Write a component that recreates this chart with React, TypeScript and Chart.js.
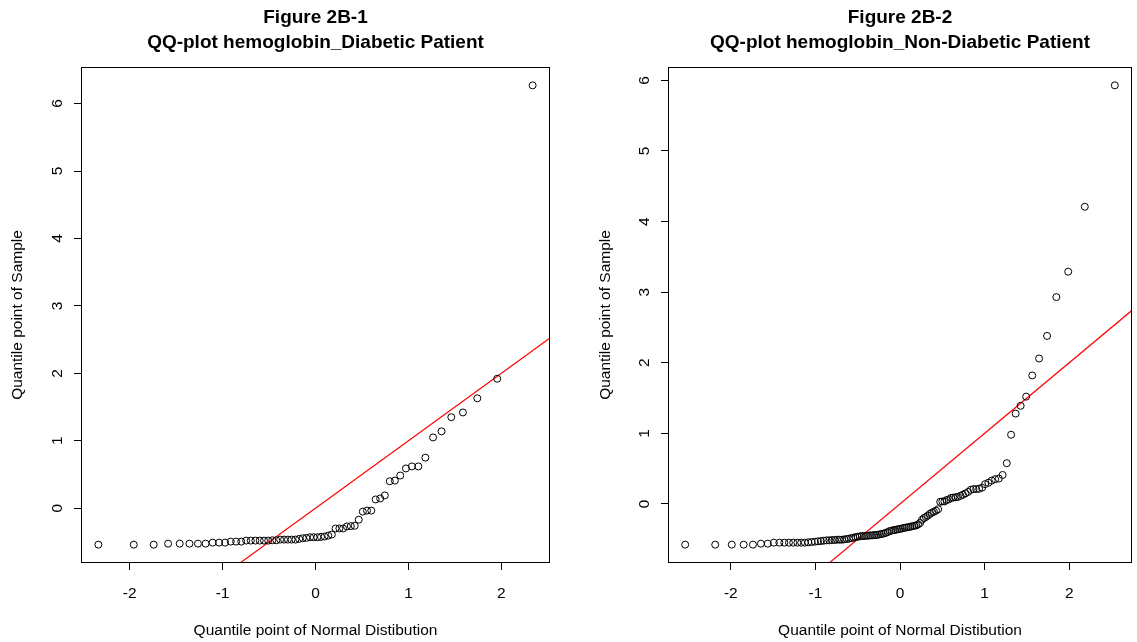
import React, { useEffect, useRef } from 'react';
import { Chart, registerables } from 'chart.js';

Chart.register(...registerables);
Chart.defaults.font.family = '"Liberation Sans", Arial, Helvetica, sans-serif';

// ---------- data ----------
const leftTitle = ['Figure 2B-1', 'QQ-plot hemoglobin_Diabetic Patient'];
const rightTitle = ['Figure 2B-2', 'QQ-plot hemoglobin_Non-Diabetic Patient'];
const xAxisTitle = 'Quantile point of Normal Distibution';
const yAxisTitle = 'Quantile point of Sample';

// Diabetic patients (64 points): theoretical normal quantiles and sample quantiles
const leftTheoretical = [
  -2.336, -1.955, -1.741, -1.586, -1.461, -1.356, -1.265, -1.182, -1.107, -1.037,
  -0.973, -0.912, -0.854, -0.799, -0.746, -0.696, -0.647, -0.6, -0.554, -0.509,
  -0.465, -0.422, -0.38, -0.338, -0.297, -0.257, -0.216, -0.176, -0.137, -0.098,
  -0.059, -0.02, 0.02, 0.059, 0.098, 0.137, 0.176, 0.216, 0.257, 0.297,
  0.338, 0.38, 0.422, 0.465, 0.509, 0.554, 0.6, 0.647, 0.696, 0.746,
  0.799, 0.854, 0.912, 0.973, 1.037, 1.107, 1.182, 1.265, 1.356, 1.461,
  1.586, 1.741, 1.955, 2.336,
];
const leftSample = [
  -0.54, -0.54, -0.54, -0.525, -0.525, -0.525, -0.525, -0.525, -0.51, -0.51,
  -0.51, -0.495, -0.495, -0.495, -0.48, -0.48, -0.48, -0.48, -0.48, -0.48,
  -0.475, -0.475, -0.465, -0.465, -0.465, -0.465, -0.465, -0.455, -0.445, -0.44,
  -0.43, -0.43, -0.43, -0.425, -0.42, -0.405, -0.39, -0.3, -0.3, -0.3,
  -0.27, -0.265, -0.26, -0.17, -0.05, -0.035, -0.035, 0.13, 0.145, 0.19,
  0.4, 0.41, 0.485, 0.59, 0.62, 0.62, 0.75, 1.05, 1.14, 1.35,
  1.42, 1.63, 1.92, 6.27,
];

// Non-diabetic patients (112 points)
const rightTheoretical = [
  -2.539, -2.184, -1.988, -1.848, -1.738, -1.644, -1.563, -1.491, -1.426, -1.367,
  -1.313, -1.262, -1.213, -1.168, -1.125, -1.084, -1.045, -1.006, -0.97, -0.935,
  -0.901, -0.868, -0.836, -0.805, -0.774, -0.744, -0.715, -0.686, -0.658, -0.631,
  -0.604, -0.577, -0.551, -0.525, -0.5, -0.475, -0.451, -0.426, -0.401, -0.377,
  -0.353, -0.33, -0.306, -0.283, -0.26, -0.237, -0.214, -0.192, -0.169, -0.146,
  -0.123, -0.101, -0.078, -0.056, -0.034, -0.011, 0.011, 0.034, 0.056, 0.078,
  0.101, 0.123, 0.146, 0.169, 0.192, 0.214, 0.237, 0.26, 0.283, 0.306,
  0.33, 0.353, 0.377, 0.401, 0.426, 0.451, 0.475, 0.5, 0.525, 0.551,
  0.577, 0.604, 0.631, 0.658, 0.686, 0.715, 0.744, 0.774, 0.805, 0.836,
  0.868, 0.901, 0.935, 0.97, 1.006, 1.045, 1.084, 1.125, 1.168, 1.213,
  1.262, 1.313, 1.367, 1.426, 1.491, 1.563, 1.644, 1.738, 1.848, 1.988,
  2.184, 2.539,
];
const rightSample = [
  -0.577, -0.577, -0.577, -0.577, -0.577, -0.563, -0.563, -0.549, -0.549, -0.549,
  -0.549, -0.549, -0.549, -0.549, -0.549, -0.544, -0.54, -0.535, -0.53, -0.526,
  -0.521, -0.516, -0.516, -0.512, -0.512, -0.507, -0.507, -0.507, -0.502, -0.498,
  -0.493, -0.484, -0.479, -0.47, -0.465, -0.46, -0.455, -0.455, -0.451, -0.451,
  -0.446, -0.446, -0.441, -0.441, -0.437, -0.43, -0.425, -0.42, -0.41, -0.4,
  -0.385, -0.38, -0.37, -0.37, -0.36, -0.357, -0.352, -0.343, -0.338, -0.333,
  -0.328, -0.324, -0.315, -0.31, -0.305, -0.29, -0.27, -0.225, -0.2, -0.185,
  -0.165, -0.14, -0.125, -0.11, -0.095, -0.075, 0.03, 0.035, 0.035, 0.055,
  0.065, 0.085, 0.09, 0.095, 0.1, 0.115, 0.13, 0.15, 0.17, 0.2,
  0.21, 0.21, 0.215, 0.23, 0.28, 0.3, 0.33, 0.35, 0.36, 0.41,
  0.577, 0.98, 1.28, 1.39, 1.52, 1.82, 2.06, 2.38, 2.93, 3.29,
  4.21, 5.93,
];

// reference line y = x (endpoints beyond the plot, clipped)
const referenceLineX = [-4, 8];

// axis ranges (R style: data range extended by 4%)
const leftXRange = [-2.523, 2.523];
const leftYRange = [-0.812, 6.542];
const rightXRange = [-2.742, 2.742];
const rightYRange = [-0.837, 6.19];

// ---------- chart ----------
const boxPlugin = {
  id: 'plotBox',
  afterDatasetsDraw(chart: any) {
    const { ctx, chartArea: a } = chart;
    ctx.save();
    ctx.strokeStyle = '#000';
    ctx.lineWidth = 1;
    ctx.strokeRect(
      Math.round(a.left) + 0.5,
      Math.round(a.top) + 0.5,
      Math.round(a.right - a.left) - 1,
      Math.round(a.bottom - a.top) - 1
    );
    ctx.restore();
  },
};

type PanelProps = {
  title: string[];
  xs: number[];
  ys: number[];
  xRange: number[];
  yRange: number[];
  left: number;
  width: number;
  yAxisWidth: number;
  padRight: number;
};

function QQPanel(p: PanelProps) {
  const ref = useRef<HTMLCanvasElement | null>(null);
  useEffect(() => {
    if (!ref.current) return;
    const points = p.xs.map((x, i) => ({ x, y: p.ys[i] }));
    const line = referenceLineX.map((v) => ({ x: v, y: v }));
    const chart = new Chart(ref.current, {
      type: 'scatter',
      data: {
        datasets: [
          {
            label: 'sample',
            data: points,
            pointStyle: 'circle',
            pointRadius: 3.5,
            pointBorderWidth: 1,
            pointBorderColor: '#000',
            pointBackgroundColor: 'rgba(0,0,0,0)',
            showLine: false,
          },
          {
            label: 'reference',
            data: line,
            showLine: true,
            borderColor: '#ff0000',
            borderWidth: 1.2,
            pointRadius: 0,
          },
        ],
      },
      options: {
        animation: false,
        responsive: false,
        events: [],
        layout: { padding: { left: 0, right: p.padRight, top: 0, bottom: 0 } },
        plugins: {
          legend: { display: false },
          tooltip: { enabled: false },
          title: {
            display: true,
            text: p.title,
            color: '#000',
            fullSize: false,
            font: { size: 19, weight: 'bold', lineHeight: 25 / 19 },
            padding: { top: 5, bottom: 12 },
          },
        },
        scales: {
          x: {
            type: 'linear',
            min: p.xRange[0],
            max: p.xRange[1],
            ticks: {
              stepSize: 1,
              includeBounds: false,
              color: '#000',
              font: { size: 15.5 },
              padding: 14,
              callback: (v: any) => String(v),
            },
            grid: { drawOnChartArea: false, drawTicks: true, tickLength: 7, tickColor: '#000' },
            border: { display: false },
            title: {
              display: true,
              text: xAxisTitle,
              color: '#000',
              font: { size: 15.5 },
              padding: { top: 0, bottom: 2 },
            },
            afterFit: (s: any) => {
              s.height = 79;
            },
          },
          y: {
            type: 'linear',
            min: p.yRange[0],
            max: p.yRange[1],
            ticks: {
              stepSize: 1,
              includeBounds: false,
              color: '#000',
              font: { size: 15.5 },
              padding: 12,
              minRotation: 90,
              maxRotation: 90,
              crossAlign: 'center',
              callback: (v: any) => String(v),
            },
            grid: { drawOnChartArea: false, drawTicks: true, tickLength: 7, tickColor: '#000' },
            border: { display: false },
            title: {
              display: true,
              text: yAxisTitle,
              color: '#000',
              font: { size: 15.5 },
              padding: { top: 8, bottom: 0 },
            },
            afterFit: (s: any) => {
              s.width = p.yAxisWidth;
            },
          },
        },
      } as any,
      plugins: [boxPlugin],
    });
    return () => chart.destroy();
  }, []);
  return (
    <canvas
      ref={ref}
      width={p.width}
      height={642}
      style={{ position: 'absolute', left: p.left, top: 0, width: p.width, height: 642 }}
    />
  );
}

export default function App() {
  return (
    <div style={{ position: 'fixed', left: 0, top: 0, width: 1137, height: 642, background: '#fff' }}>
      <QQPanel
        title={leftTitle}
        xs={leftTheoretical}
        ys={leftSample}
        xRange={leftXRange}
        yRange={leftYRange}
        left={0}
        width={568}
        yAxisWidth={81}
        padRight={18}
      />
      <QQPanel
        title={rightTitle}
        xs={rightTheoretical}
        ys={rightSample}
        xRange={rightXRange}
        yRange={rightYRange}
        left={588}
        width={549}
        yAxisWidth={80}
        padRight={3}
      />
    </div>
  );
}
